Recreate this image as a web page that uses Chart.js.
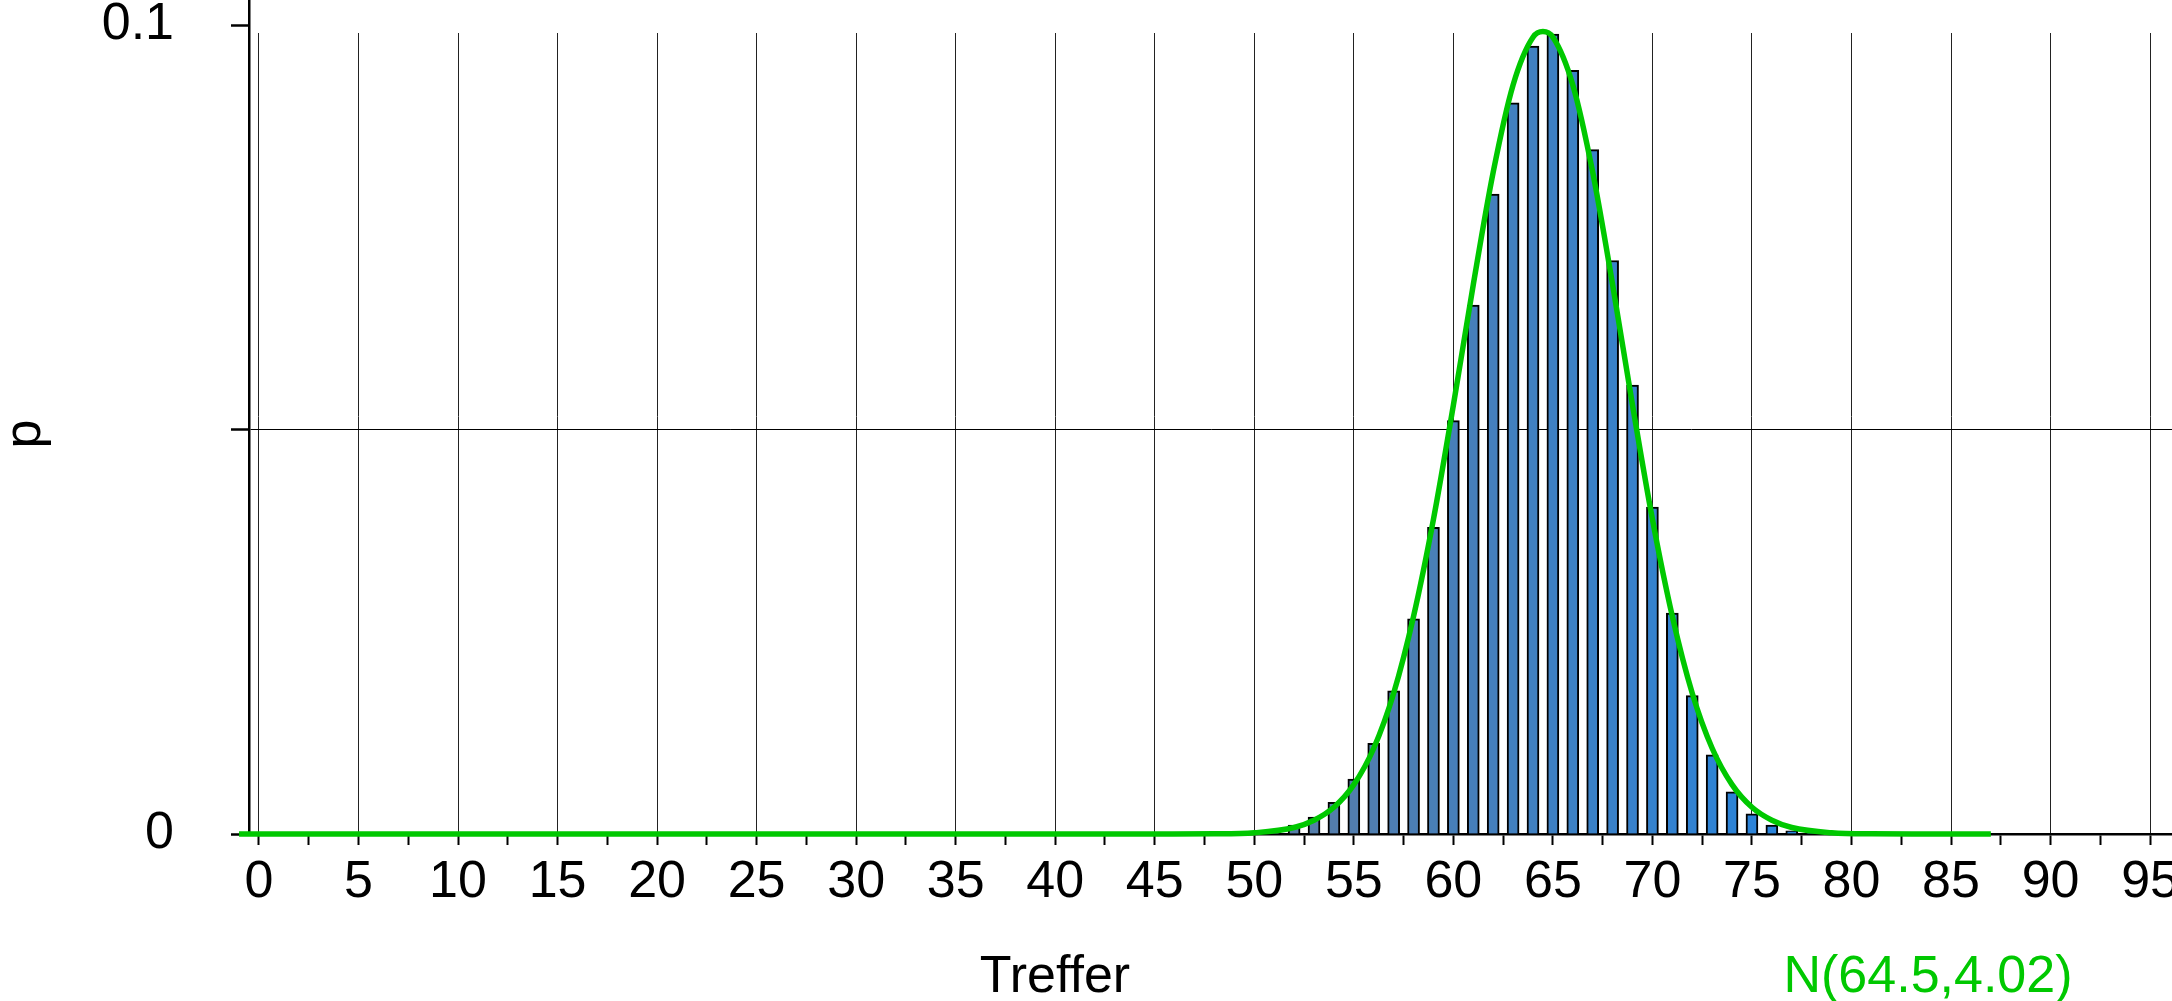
<!DOCTYPE html>
<html>
<head>
<meta charset="utf-8">
<script src="https://cdn.jsdelivr.net/npm/chart.js@4"></script>
<style>
  html, body { margin: 0; padding: 0; background: #fff; }
  #wrap { width: 2172px; height: 1001px; }
</style>
</head>
<body>
<div id="wrap"><canvas id="chart" width="2172" height="1001"></canvas></div>
<script>
// Treffer (hits) and their probabilities
const hits = [47,48,49,50,51,52,53,54,55,56,57,58,59,60,61,62,63,64,65,66,67,68,69,70,71,72,73,74,75,76,77,78,79,80];
const probs = [0.00002,0.00005,0.00012,0.00026,0.00054,0.0011,0.0021,0.0039,0.0068,0.0112,0.0177,0.0266,0.0379,0.0511,0.0654,0.0791,0.0904,0.0974,0.0989,0.0944,0.0846,0.0709,0.0555,0.0404,0.0273,0.0171,0.0098,0.0052,0.0025,0.0011,0.0004,0.00015,0.00004,0.00001];

// green curve N(64.5,4.02)
const curveX = [-1,40,45,48,50,52,53,54,55,56,57,58,59,60,61,62,63,64,64.5,65,66,67,68,69,70,71,72,73,74,75,76,77,79,81,84,87];
const curveY = [0,0,0,0.00002,0.00015,0.0008,0.0017,0.0033,0.0061,0.0106,0.0174,0.0269,0.0389,0.0530,0.0679,0.0818,0.0926,0.0985,0.0992,0.0985,0.0926,0.0818,0.0679,0.0530,0.0389,0.0269,0.0174,0.0106,0.0061,0.0033,0.0017,0.0008,0.00015,0.00002,0,0];

const xTicks = [];
for (let v = 0; v <= 95; v += 2.5) xTicks.push(v);
const yTicks = [0, 0.05, 0.1];
const yLabels = {0: '0', 0.1: '0.1'};

const FONT = 'Liberation Sans, Arial, sans-serif';
const GREEN = '#00c800';

function barColor(ctx){
  const x = ctx.raw ? ctx.raw.x : 64;
  let t = (x - 50) / 28;
  t = Math.max(0, Math.min(1, t));
  const a = [90,124,164], b = [38,132,222];
  const c = a.map((v,i)=>Math.round(v + (b[i]-v)*t));
  return 'rgb(' + c.join(',') + ')';
}

// vertical grid lines stop a little below the top edge
const gridTop = {
  id: 'gridTop',
  beforeDatasetsDraw(chart){
    const a = chart.chartArea, ctx = chart.ctx;
    ctx.save();
    ctx.fillStyle = '#fff';
    ctx.fillRect(a.left + 2, a.top, a.right - a.left, 33);
    ctx.restore();
  }
};

const textPlugin = {
  id: 'texts',
  afterDraw(chart){
    const ctx = chart.ctx;
    ctx.save();
    ctx.font = '52px ' + FONT;
    ctx.fillStyle = '#000';
    ctx.textAlign = 'center';
    ctx.textBaseline = 'alphabetic';
    ctx.fillText('Treffer', 1055, 992);
    ctx.fillStyle = GREEN;
    ctx.fillText('N(64.5,4.02)', 1928, 992);
    ctx.translate(26, 434);
    ctx.rotate(-Math.PI/2);
    ctx.fillStyle = '#000';
    ctx.textBaseline = 'middle';
    ctx.fillText('p', 0, 0);
    ctx.restore();
  }
};

window.addEventListener('load', ()=>{
  const el = document.getElementById('chart');
  new Chart(el, {
    type: 'bar',
    data: {
      datasets: [
        {
          type: 'line',
          label: 'N(64.5,4.02)',
          data: curveX.map((x,i)=>({x:x, y:curveY[i]})),
          borderColor: GREEN,
          borderWidth: 5.5,
          pointRadius: 0,
          cubicInterpolationMode: 'monotone',
          clip: false,
          order: 0
        },
        {
          label: 'p',
          data: hits.map((k,i)=>({x:k, y:probs[i]})),
          backgroundColor: barColor,
          borderColor: '#000',
          borderWidth: 2,
          barThickness: 12,
          order: 1
        }
      ]
    },
    options: {
      responsive: false,
      animation: false,
      layout: { padding: 0 },
      plugins: { legend: { display: false }, tooltip: { enabled: false } },
      scales: {
        x: {
          type: 'linear',
          min: -0.5,
          max: 96.1,
          offset: false,
          afterBuildTicks: s => { s.ticks = xTicks.map(v=>({value:v})); },
          afterFit: s => { s.height = 167; s.paddingLeft = 0; s.paddingRight = 0; },
          ticks: {
            autoSkip: false,
            maxRotation: 0,
            padding: 6,
            color: '#000',
            font: { family: FONT, size: 52 },
            callback: v => (v % 5 === 0 ? String(v) : '')
          },
          grid: {
            offset: false,
            color: c => (c.tick && c.tick.value % 5 === 0 ? '#222' : 'rgba(0,0,0,0)'),
            lineWidth: 1,
            tickColor: '#000',
            tickWidth: 2,
            tickLength: 11
          },
          border: { color: '#000', width: 2.5 }
        },
        y: {
          min: 0,
          max: 0.1031,
          afterBuildTicks: s => { s.ticks = yTicks.map(v=>({value:v})); },
          afterFit: s => { s.width = 249; s.paddingTop = 0; s.paddingBottom = 0; },
          ticks: {
            padding: 57,
            color: '#000',
            font: { family: FONT, size: 52 },
            callback: v => (yLabels[v] !== undefined ? yLabels[v] : '')
          },
          grid: {
            offset: false,
            color: c => (c.tick && c.tick.value === 0.05 ? '#000' : 'rgba(0,0,0,0)'),
            lineWidth: 1,
            tickColor: '#000',
            tickWidth: 2.5,
            tickLength: 18
          },
          border: { color: '#000', width: 2.5 }
        }
      }
    },
    plugins: [gridTop, textPlugin]
  });
});
</script>
</body>
</html>
